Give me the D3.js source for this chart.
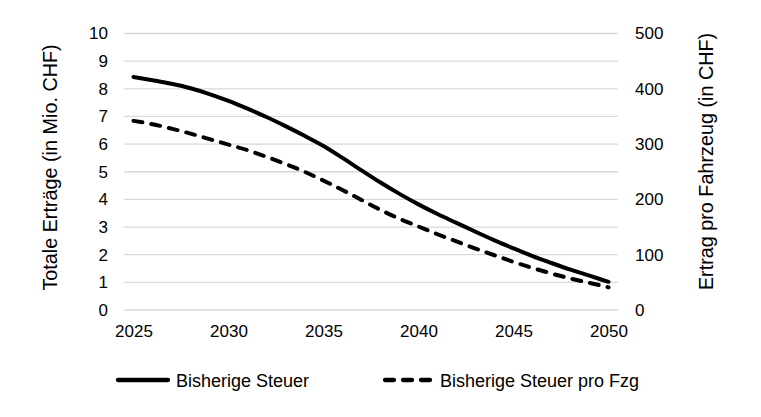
<!DOCTYPE html>
<html>
<head>
<meta charset="utf-8">
<script src="https://cdn.jsdelivr.net/npm/d3@7"></script>
<style>
  html, body { margin: 0; padding: 0; background: #fff; }
  svg { display: block; }
  text { font-family: "Liberation Sans", Arial, sans-serif; fill: #000; }
</style>
</head>
<body>
<script>
const years = d3.range(2025, 2051);
const tickYears = [2025, 2030, 2035, 2040, 2045, 2050];
const leftTicks = [0, 1, 2, 3, 4, 5, 6, 7, 8, 9, 10];
const rightTicks = [0, 100, 200, 300, 400, 500];
// Bisherige Steuer (Mio. CHF, left axis)
const steuer = [8.43, 8.31, 8.18, 8.02, 7.81, 7.56, 7.28, 6.98, 6.65, 6.30, 5.93,
                5.50, 5.05, 4.61, 4.20, 3.82, 3.47, 3.15, 2.83, 2.52, 2.23, 1.95,
                1.70, 1.46, 1.24, 1.02];
// Bisherige Steuer pro Fzg (CHF, right axis)
const steuerFzg = [342, 336, 328, 319, 309, 299, 289, 277, 264, 250, 234,
                   217, 199, 181, 165, 151, 137, 124, 111, 99, 87, 76,
                   66, 57, 49, 41];

const W = 761, H = 417;
const plot = { left: 124, right: 618, top: 33.5, bottom: 310 };

const svg = d3.select("body").append("svg").attr("width", W).attr("height", H);

const x = d3.scalePoint().domain(years).range([plot.left, plot.right]).padding(0.5);
const yL = d3.scaleLinear().domain([0, 10]).range([plot.bottom, plot.top]);
const yR = d3.scaleLinear().domain([0, 500]).range([plot.bottom, plot.top]);

// gridlines
svg.append("g").selectAll("line").data(leftTicks).join("line")
  .attr("x1", plot.left).attr("x2", plot.right)
  .attr("y1", d => yL(d)).attr("y2", d => yL(d))
  .attr("stroke", "#d9d9d9").attr("stroke-width", 1.3);

// left axis
const axL = svg.append("g").attr("transform", `translate(${plot.left - 16},0)`)
  .call(d3.axisLeft(yL).tickValues(leftTicks).tickSize(0).tickPadding(0));
axL.select(".domain").remove();
axL.selectAll("text").style("font-size", "17px").style("font-family", "Liberation Sans, Arial, sans-serif");

// right axis
const axR = svg.append("g").attr("transform", `translate(${plot.right + 17},0)`)
  .call(d3.axisRight(yR).tickValues(rightTicks).tickSize(0).tickPadding(0));
axR.select(".domain").remove();
axR.selectAll("text").style("font-size", "17px").style("font-family", "Liberation Sans, Arial, sans-serif");

// bottom axis
const axB = svg.append("g").attr("transform", `translate(0,${plot.bottom})`)
  .call(d3.axisBottom(x).tickValues(tickYears).tickSize(0).tickPadding(15));
axB.select(".domain").remove();
axB.selectAll("text").style("font-size", "17px").style("font-family", "Liberation Sans, Arial, sans-serif");

// axis titles
svg.append("text")
  .attr("transform", `translate(57,${(43 + 292) / 2}) rotate(-90)`)
  .attr("text-anchor", "middle")
  .style("font-size", "19.8px")
  .text("Totale Erträge (in Mio. CHF)");
svg.append("text")
  .attr("transform", `translate(713,${(33 + 290) / 2}) rotate(-90)`)
  .attr("text-anchor", "middle")
  .style("font-size", "19.8px")
  .text("Ertrag pro Fahrzeug (in CHF)");

// lines
const lineL = d3.line().x((d, i) => x(years[i])).y(d => yL(d)).curve(d3.curveMonotoneX);
const lineR = d3.line().x((d, i) => x(years[i])).y(d => yR(d)).curve(d3.curveMonotoneX);

svg.append("path").datum(steuerFzg).attr("d", lineR)
  .attr("fill", "none").attr("stroke", "#000").attr("stroke-width", 4)
  .attr("stroke-dasharray", "9,9").attr("stroke-linecap", "round");
svg.append("path").datum(steuer).attr("d", lineL)
  .attr("fill", "none").attr("stroke", "#000").attr("stroke-width", 4)
  .attr("stroke-linecap", "round");

// legend
const legY = 380;
svg.append("line").attr("x1", 118).attr("x2", 168).attr("y1", legY).attr("y2", legY)
  .attr("stroke", "#000").attr("stroke-width", 4.3).attr("stroke-linecap", "round");
svg.append("text").attr("x", 176).attr("y", legY + 7).style("font-size", "18px").text("Bisherige Steuer");
svg.append("line").attr("x1", 385).attr("x2", 430).attr("y1", legY).attr("y2", legY)
  .attr("stroke", "#000").attr("stroke-width", 4.3).attr("stroke-linecap", "round")
  .attr("stroke-dasharray", "9,9");
svg.append("text").attr("x", 440).attr("y", legY + 7).style("font-size", "18px").text("Bisherige Steuer pro Fzg");
</script>
</body>
</html>
